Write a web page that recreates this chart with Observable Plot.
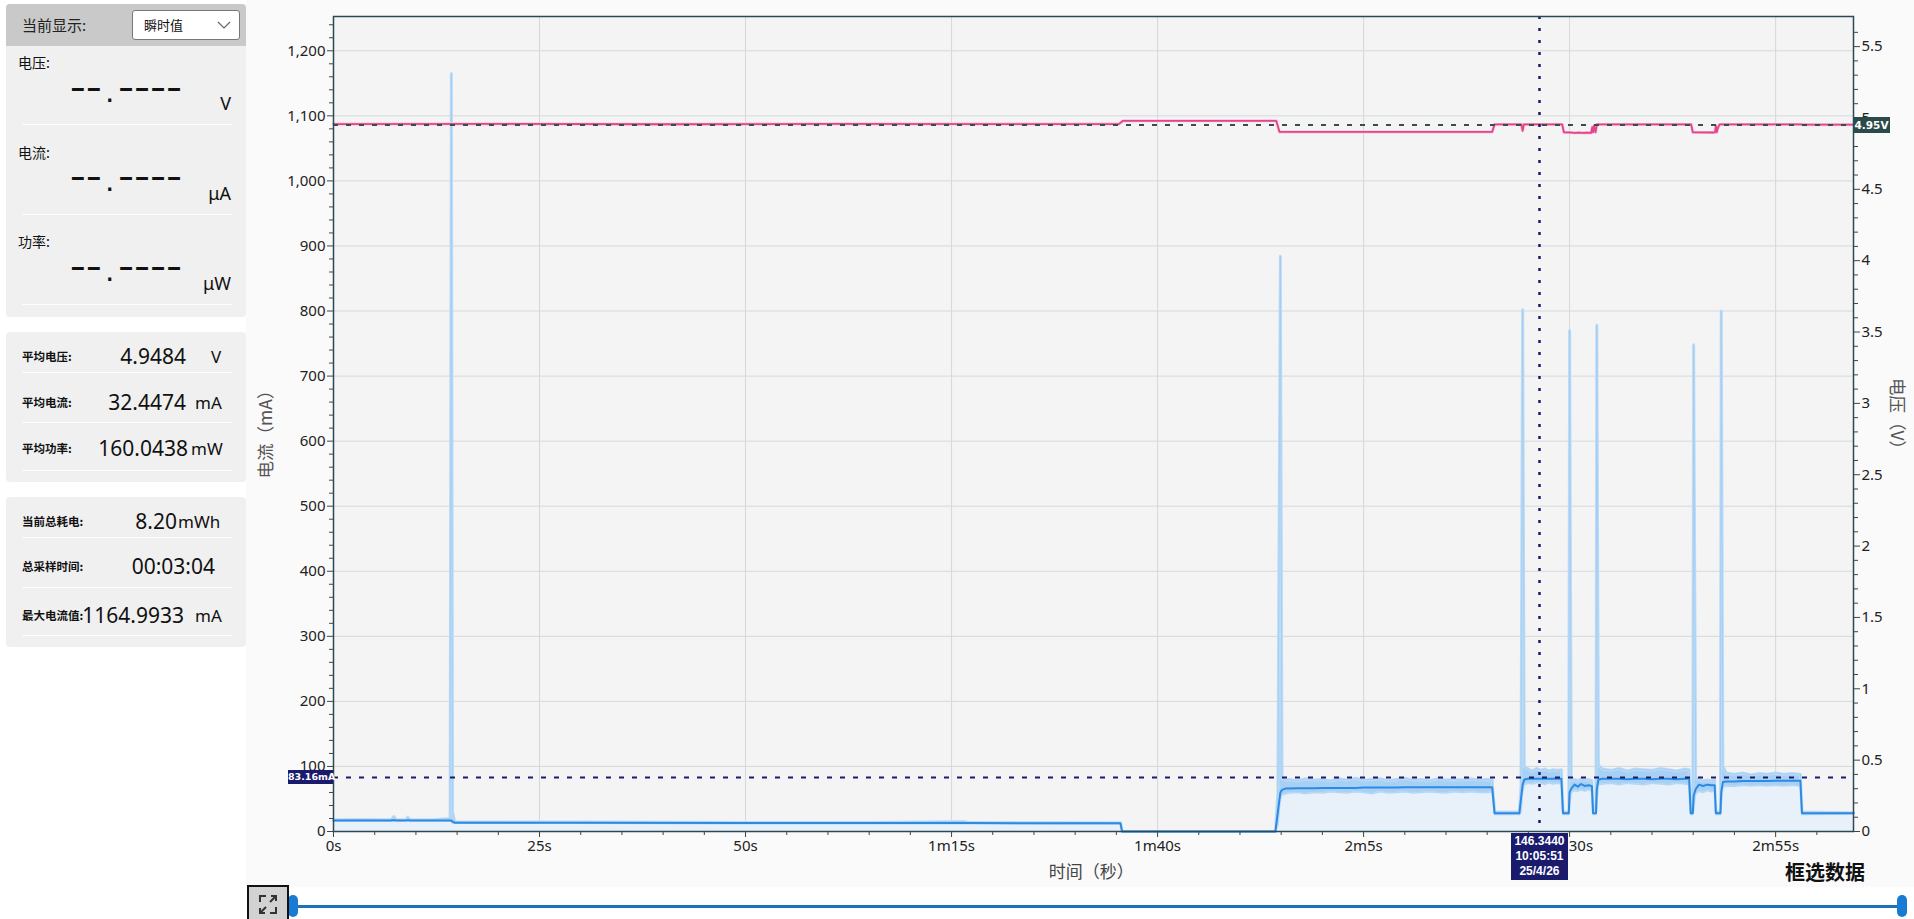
<!DOCTYPE html>
<html><head><meta charset="utf-8">
<script src="https://cdn.jsdelivr.net/npm/d3@7"></script>
<script src="https://cdn.jsdelivr.net/npm/@observablehq/plot@0.6"></script>
<style>
html,body{margin:0;padding:0;background:#fff;width:1914px;height:919px;overflow:hidden;font-family:"Noto Sans","Noto Sans CJK SC",sans-serif;color:#111}
#root{position:relative;width:1914px;height:919px}
.a{position:absolute;white-space:nowrap}
.box{position:absolute;left:6px;width:240px;background:#f0f0f0;border-radius:4px}
.sep{position:absolute;left:22px;width:210px;height:1px;background:#fcfcfc}
.cjk{font-family:"Noto Sans CJK SC",sans-serif}
.lbl{font-family:"Noto Sans CJK SC",sans-serif;font-size:11.5px;font-weight:700;color:#111}
.val{font-family:"Noto Sans",sans-serif;font-size:21px;color:#111}
.unit{font-family:"Noto Sans",sans-serif;font-size:17px;color:#111}
.dash{font-family:"DejaVu Sans Mono",monospace;font-weight:700;font-size:19px;letter-spacing:4.6px;color:#111}
.dash span{position:relative;top:6px}
</style></head>
<body><div id="root"></div>
<script>
// ---- data ----
const currentTime = [
  0,3,7,7.3,7.6, 8.8,9,9.3,12,14.15, 14.3,14.45,14.7,30,50, 65,76.5,77,95.5,95.7, 114.3,114.6,114.9,115.1,115.5,
  116,117,118,119,120, 121,122,123,124,125, 126,127,128,129,130, 131,132,133,134,135, 136,137,138,139,140, 140.6,
  140.9,143.9,144.1,144.3,144.5, 145,145.5,146,146.5,147,147.5,148,148.5,149,
  149.2,149.9,150,150.2,150.6,151,151.4,151.8,152.3,152.7,
  152.85,153.2,153.3,153.5,154, 155,156,157,158,159,160,161,162,163,164,
  164.5,164.7,164.95,165.05,165.3,165.7,166.2,166.7,167.2,167.6,
  167.75,168.3,168.4,168.6, 169,170,171,172,173,174,175,176,177,178, 178.2,184.45
];
const currentAvg = [
  17,17,17,17.5,17, 17,17.5,17,17,17, 17,15,13.5,13.5,13, 13,13,13,12.5,0, 0,30,60,64,66,
  66,66.5,66.5,66.5,67, 67,67,67,67,67.5, 67.5,67.5,67.5,67.5,68, 68,68,68,68,68, 68,68,68,68,68, 68,
  28,28,50,72,80, 81,81,81,81,81,81,81,81,81,
  28,28,60,66,72,69,73,70,71,70,
  28,28,65,80,81, 81,81,80.5,81,81,80.5,81,81,80.5,81,
  81,28,28,55,65,72,70,72,71,71,
  28,28,60,76, 77,77,77.5,77.5,77.5,77.5,78,78,78,78, 28,28
];
const currentLow = [
  16,16,16,16,16, 16,16,16,16,16, 15,13,12.5,12.5,12, 12,12,12,11.5,0, 0,10,50,56,58,
  59,60,58,60,59, 61,60,59,61,60, 58,61,59,60,61, 59,60,61,60,59, 61,60,61,60,60, 61,
  26,26,30,60,72, 74,73,75,74,72,75,73,74,73,
  26,26,40,60,63,62,64,62,64,62,
  26,26,40,72,73, 74,72,74,73,72,74,73,72,74,73,
  72,26,26,35,58,62,60,63,61,62,
  26,26,40,68, 70,69,71,70,71,70,71,70,71,70, 26,27
];
const currentHigh = [
  18,18.5,18,23,18.5, 18,22,18,18,20, 1165,30,15,14.5,14, 14,15.5,14,13.5,0, 0,60,884,82,79,
  80,78,81,79,80, 78,81,79,82,79, 80,81,78,80,82, 79,80,78,81,79, 80,79,81,79,80, 79,
  30,30,70,802,100, 96,93,97,94,96,93,95,94,95,
  30,30,770,78,80,78,81,79,80,78,
  30,30,778,102,96, 94,97,93,96,95,94,97,95,93,96,
  95,30,30,748,82,80,78,79,78,79,
  30,30,800,100, 90,88,90,87,89,88,90,88,89,88, 30,29
];
const voltTime = [0,20,40,60,80, 95.3,95.8,114.4,114.8,140.6, 140.9,144.15,144.3,144.45,149.1,
  149.3,150.2,150.6,151.1,151.6, 152.1,152.6,152.75,152.85,152.95, 153.15,153.3,164.75,164.95,167.5,
  167.65,167.75,167.85,168.0,168.2, 178.1,178.3,184.45];
const voltValue = [4.957,4.958,4.956,4.958,4.957, 4.957,4.98,4.98,4.902,4.902, 4.955,4.955,4.91,4.955,4.955,
  4.9,4.898,4.895,4.898,4.895, 4.897,4.895,4.935,4.9,4.945, 4.9,4.955,4.955,4.9,4.898,
  4.9,4.945,4.9,4.93,4.955, 4.955,4.953,4.953];

const xTicks = [0,25,50,75,100,125,150,175];
const xTickLabels = ["0s","25s","50s","1m15s","1m40s","2m5s","2m30s","2m55s"];
const yTicks = [0,100,200,300,400,500,600,700,800,900,1000,1100,1200];
const vTicks = [0,0.5,1,1.5,2,2.5,3,3.5,4,4.5,5,5.5];
const vTickLabels = ["0","0.5","1","1.5","2","2.5","3","3.5","4","4.5","5","5.5"];
const avgCurrentRef = 83.16, voltRef = 4.95, cursorTime = 146.344;
const cursorLines = ["146.3440","10:05:51","25/4/26"];

const xMax = 184.45, yMax = 1252.7, vMax = 5.711, k = yMax / vMax;

const cur = currentTime.map((t,i)=>({t, avg:currentAvg[i], lo:currentLow[i], hi:currentHigh[i]}));
const volt = voltTime.map((t,i)=>({t, vy:voltValue[i]*k}));
const yMinor = d3.range(0, 1260, 20).filter(v=>v%100!==0);
const vMinor = d3.range(0, 57).map(i=>i/10).filter(v=>Math.round(v*10)%5!==0).map(v=>v*k);
const xMinor = d3.range(0, 185, 5).filter(v=>v%25!==0);

const FONT = '"Noto Sans","Noto Sans CJK SC",sans-serif';
const chart = Plot.plot({
  width:1664, height:888, marginLeft:83, marginRight:61, marginTop:16, marginBottom:57,
  style:{background:"transparent", fontFamily:FONT, fontSize:"15px", color:"#222", overflow:"visible"},
  x:{domain:[0,xMax]}, y:{domain:[0,yMax]},
  marks:[
    Plot.frame({fill:"#f4f4f4", stroke:null}),
    Plot.gridY(yTicks,{stroke:"#d5d8db", strokeOpacity:1}),
    Plot.gridX(xTicks,{stroke:"#d5d8db", strokeOpacity:1}),
    Plot.areaY(cur,{x:"t", y1:0, y2:"avg", fill:"#e8f0f9"}),
    Plot.areaY(cur,{x:"t", y1:"lo", y2:"hi", fill:"#a8d0f4"}),
    Plot.lineY(cur,{x:"t", y:"hi", stroke:"#bddcf7", strokeWidth:3}),
    Plot.lineY(cur,{x:"t", y:"hi", stroke:"#a6cef3", strokeWidth:1}),
    Plot.lineY(cur,{x:"t", y:"lo", stroke:"#b4d7f6", strokeWidth:1.5}),
    Plot.lineY(cur,{x:"t", y:"avg", stroke:"#2b8ae2", strokeWidth:2}),
    Plot.lineY(volt,{x:"t", y:"vy", stroke:"#f6c3da", strokeWidth:3}),
    Plot.lineY(volt,{x:"t", y:"vy", stroke:"#e4448c", strokeWidth:1.8}),
    Plot.ruleY([avgCurrentRef],{stroke:"#1b1b6e", strokeWidth:2, strokeDasharray:"5,8"}),
    Plot.ruleY([voltRef*k],{stroke:"#3b4c4c", strokeWidth:2, strokeDasharray:"5,8"}),
    Plot.ruleX([cursorTime],{stroke:"#1b1b6e", strokeWidth:2.5, strokeDasharray:"3,9"}),
    Plot.frame({stroke:"#2c4a56", strokeWidth:1.5}),
    Plot.axisY(yMinor,{tickSize:4, tickFormat:()=>"", label:null, stroke:"#444"}),
    Plot.axisY(yTicks,{tickSize:6, tickPadding:2, tickFormat:d3.format(","), label:null, stroke:"#444", fill:"#222"}),
    Plot.axisY(vMinor,{anchor:"right", tickSize:4, tickFormat:()=>"", label:null, stroke:"#444"}),
    Plot.axisY(vTicks.map(v=>v*k),{anchor:"right", tickSize:6, tickPadding:2, label:null, stroke:"#444", fill:"#222",
      tickFormat:d=>vTickLabels[vTicks.findIndex(v=>Math.abs(v*k-d)<1e-6)]}),
    Plot.axisX(xMinor,{tickSize:4, tickFormat:()=>"", label:null, stroke:"#444"}),
    Plot.axisX(xTicks,{tickSize:6, tickPadding:3, label:null, stroke:"#444", fill:"#222",
      tickFormat:d=>xTickLabels[xTicks.indexOf(d)]})
  ]
});

const root = document.getElementById("root");
function el(html){ root.insertAdjacentHTML("beforeend", html); }

// chart background container
el(`<div class="a" style="left:246px;top:0;width:1668px;height:887px;background:#fafafa"></div>`);
chart.style.position="absolute"; chart.style.left="250px"; chart.style.top="0px";
root.appendChild(chart);

const xs = chart.scale("x"), ys = chart.scale("y");
const OX = 250;

// axis titles
el(`<div class="a cjk" style="left:${OX+xs.apply(92)}px;top:858px;font-size:17px;color:#444;transform:translateX(-50%)">时间（秒）</div>`);
el(`<div class="a cjk" style="left:264px;top:430px;font-size:17.5px;color:#555;transform:translate(-50%,-50%) rotate(-90deg)">电流（mA）</div>`);
el(`<div class="a cjk" style="left:1898px;top:418px;font-size:17.5px;color:#555;transform:translate(-50%,-50%) rotate(90deg)">电压（V）</div>`);
el(`<div class="a cjk" style="left:1785px;top:857px;font-size:20px;font-weight:700;color:#111">框选数据</div>`);

// reference labels
const ay = ys.apply(avgCurrentRef);
el(`<div class="a" style="left:288px;top:${ay-7}px;width:45px;height:14px;background:#1b1b6e;color:#fff;font-family:'DejaVu Sans',sans-serif;font-size:9.5px;font-weight:700;line-height:14px;text-align:center">${avgCurrentRef}mA</div>`);
const vy = ys.apply(voltRef*k);
el(`<div class="a" style="left:1853px;top:${vy-8}px;width:37px;height:16px;background:#2b4a4a;color:#fff;font-family:'DejaVu Sans',sans-serif;font-size:10.5px;font-weight:700;line-height:16px;text-align:center">${voltRef.toFixed(2)}V</div>`);
const cx = OX + xs.apply(cursorTime);
el(`<div class="a" style="left:${cx-28}px;top:833px;width:57px;height:47px;background:#1b1b6e;color:#fff;font-family:'Liberation Sans',sans-serif;font-size:12px;font-weight:700;line-height:15px;text-align:center;padding-top:1px;box-sizing:border-box">${cursorLines.join("<br>")}</div>`);

// scrollbar
el(`<div class="a" style="left:293px;top:905px;width:1610px;height:3px;background:#1f72b8"></div>`);
el(`<div class="a" style="left:288px;top:895px;width:10px;height:22px;border-radius:5px;background:#1a7ad4"></div>`);
el(`<div class="a" style="left:1897px;top:895px;width:10px;height:22px;border-radius:5px;background:#1a7ad4"></div>`);
el(`<div class="a" style="left:247px;top:885px;width:42px;height:40px;background:#d2d2d2;border:2px solid #111;box-sizing:border-box">
<svg width="38" height="34" style="position:absolute;left:0;top:0"><g fill="none" stroke="#333" stroke-width="2">
<path d="M11 15 V9 H17"/><path d="M21 15 L27 9 M22 9 H27 V14"/><path d="M11 26 L17 20 M11 21 V26 H16"/><path d="M27 20 V26 H21"/></g></svg></div>`);

// ---- left panel ----
el(`<div class="box" style="top:4px;height:313px"></div>`);
el(`<div class="a" style="left:6px;top:4px;width:240px;height:42px;background:#c9c9c9;border-radius:4px 4px 0 0"></div>`);
el(`<div class="a cjk" style="left:22px;top:14px;font-size:15px;line-height:22px;color:#222">当前显示:</div>`);
el(`<div class="a" style="left:132px;top:10px;width:108px;height:30px;background:#fff;border:1px solid #777;border-radius:3px;box-sizing:border-box"></div>`);
el(`<div class="a cjk" style="left:144px;top:15px;font-size:13px;line-height:20px;color:#111">瞬时值</div>`);
el(`<svg class="a" style="left:217px;top:20px" width="14" height="10"><polyline points="1,2 7,8 13,2" fill="none" stroke="#666" stroke-width="1.2"/></svg>`);
const rows1 = [["电压:",62,89,"V",103],["电流:",152,178,"μA",193],["功率:",241,268,"μW",283]];
const seps1 = [124,214,304];
rows1.forEach(([l,ly,dy,u,uy],i)=>{
  el(`<div class="a cjk" style="left:18px;top:${ly-10}px;font-size:14px;line-height:20px;color:#111">${l}</div>`);
  el(`<div class="a dash" style="left:72px;top:${dy-14}px;line-height:28px">━━<span>.</span>━━━━</div>`);
  el(`<div class="a" style="right:${1914-231}px;top:${uy-12}px;font-size:18px;line-height:24px;color:#111">${u}</div>`);
  el(`<div class="sep" style="top:${seps1[i]}px"></div>`);
});
el(`<div class="box" style="top:332px;height:150px"></div>`);
el(`<div class="box" style="top:497px;height:150px"></div>`);
const rows2 = [
  ["平均电压:",356,"4.9484","V",186,211],
  ["平均电流:",402,"32.4474","mA",186,195],
  ["平均功率:",448,"160.0438","mW",188,191],
  ["当前总耗电:",521,"8.20","mWh",177,178],
  ["总采样时间:",566,"00:03:04","",215,0],
  ["最大电流值:",615,"1164.9933","mA",184,195]
];
const seps2 = [372,422,470,537,587,635];
rows2.forEach(([l,y,v,u,vr,ul],i)=>{
  el(`<div class="a lbl" style="left:22px;top:${y-9}px;line-height:18px">${l}</div>`);
  el(`<div class="a val" style="right:${1914-vr}px;top:${y-15}px;line-height:30px">${v}</div>`);
  if(u) el(`<div class="a unit" style="left:${ul}px;top:${y-12}px;line-height:26px">${u}</div>`);
  el(`<div class="sep" style="top:${seps2[i]}px"></div>`);
});
</script>
</body></html>
